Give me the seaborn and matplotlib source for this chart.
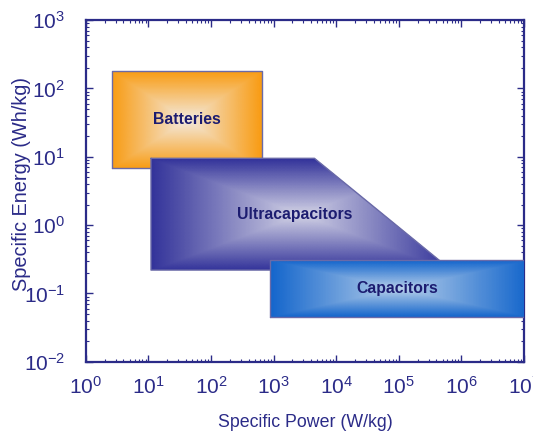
import numpy as np
import pandas as pd
import matplotlib
matplotlib.use("Agg")
import matplotlib.pyplot as plt
from matplotlib.colors import LinearSegmentedColormap
from matplotlib.patches import Polygon
from matplotlib.ticker import LogLocator, NullFormatter
import seaborn as sns

# --- Ragone chart data (W/kg, Wh/kg) ---
labels = ["Batteries", "Ultracapacitors", "Capacitors"]

batt_power = [2.6, 650, 650, 2.6]
batt_energy = [6.8, 6.8, 180, 180]

ultra_power = [11, 4500, 6.9e5, 11]
ultra_energy = [9.5, 9.5, 0.22, 0.22]

cap_power = [880, 1.2e7, 1.2e7, 880]
cap_energy = [0.046, 0.046, 0.31, 0.31]

# where the label sits (visible extent of each region)
label_power = [(2.6, 650), (11, 4.3e5), (880, 1e7)]
label_energy = [(6.8, 180), (0.22, 9.5), (0.046, 0.31)]

# edge colour -> centre colour of the box gradients
edge_colors = ["#f89c14", "#33339a", "#1466cc"]
center_colors = ["#f3ebe0", "#d4d4e6", "#b8d0ea"]

NAVY = "#2b2b88"
TEXT = "#1c1c70"

sns.set_style("white")
plt.rcParams['font.family'] = ['Liberation Sans', 'DejaVu Sans']
plt.rcParams['mathtext.fontset'] = 'custom'
plt.rcParams['mathtext.rm'] = 'Liberation Sans'
plt.rcParams['mathtext.it'] = 'Liberation Sans:italic'
plt.rcParams['mathtext.bf'] = 'Liberation Sans:bold'

fig = plt.figure(figsize=(5.33, 4.37), dpi=100)
ax = fig.add_axes([0.161, 0.172, 0.822, 0.782])
ax.set_xscale("log")
ax.set_yscale("log")
ax.set_xlim(1, 1e7)
ax.set_ylim(1e-2, 1e3)

shapes = [(batt_power, batt_energy), (ultra_power, ultra_energy), (cap_power, cap_energy)]

for i, (px, py) in enumerate(shapes):
    lx, ly = np.log10(px), np.log10(py)
    gx = np.linspace(lx.min(), lx.max(), 80)
    gy = np.linspace(ly.min(), ly.max(), 80)
    GX, GY = np.meshgrid(gx, gy)
    u = (GX - gx.mean()) / (gx.max() - gx.mean())
    v = (GY - gy.mean()) / (gy.max() - gy.mean())
    d = np.maximum(np.abs(u), np.abs(v))
    cmap = LinearSegmentedColormap.from_list("g%d" % i, [center_colors[i], edge_colors[i]])
    mesh = ax.pcolormesh(10 ** GX, 10 ** GY, d, cmap=cmap, vmin=0, vmax=1,
                         shading="gouraud", zorder=2 + i)
    poly = Polygon(list(zip(px, py)), closed=True, transform=ax.transData,
                   facecolor="none", edgecolor="none")
    ax.add_patch(poly)
    mesh.set_clip_path(poly)

    outline = pd.DataFrame({"power": list(px) + [px[0]], "energy": list(py) + [py[0]]})
    sns.lineplot(data=outline, x="power", y="energy", sort=False, estimator=None,
                 color="#6a6aa8", lw=1.0, ax=ax, zorder=2.5 + i)

    cx = np.sqrt(label_power[i][0] * label_power[i][1])
    cy = np.sqrt(label_energy[i][0] * label_energy[i][1])
    ax.text(cx, cy, labels[i], ha="center", va="center", fontsize=11.3,
            fontweight="bold", color=TEXT, zorder=10)

ax.set_xticks([10.0 ** k for k in range(0, 8)])
ax.set_yticks([10.0 ** k for k in range(-2, 4)])
for axis in (ax.xaxis, ax.yaxis):
    axis.set_minor_locator(LogLocator(base=10, subs=np.arange(2, 10), numticks=20))
    axis.set_minor_formatter(NullFormatter())
ax.set_xlim(1, 1e7)
ax.set_ylim(1e-2, 1e3)

ax.tick_params(which="both", direction="in", top=True, right=True,
               bottom=True, left=True, color=NAVY)
ax.tick_params(which="major", length=5, width=1.0, labelsize=15, labelcolor=NAVY)
ax.tick_params(which="minor", length=2.5, width=0.8)
ax.tick_params(axis="x", which="major", pad=10)
ax.tick_params(axis="y", which="major", pad=15)
for s in ax.spines.values():
    s.set_color(NAVY)
    s.set_linewidth(1.6)

ax.set_xlabel("Specific Power (W/kg)", fontsize=12.8, color=NAVY, labelpad=12)
ax.set_ylabel("Specific Energy (Wh/kg)", fontsize=14.4, color=NAVY)
ax.yaxis.set_label_coords(-0.124, 0.52)

fig.savefig("out.png", dpi=100)
